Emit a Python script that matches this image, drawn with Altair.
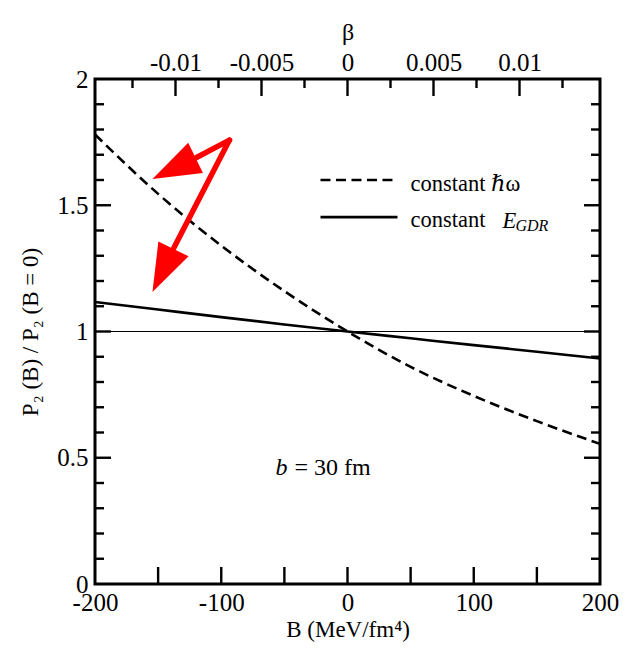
import altair as alt
import pandas as pd

# ---- data ----
B_VALUES = [-200, -150, -100, -50, 0, 50, 100, 150, 200]
CONST_HW = [1.78, 1.545, 1.34, 1.16, 1.0, 0.86, 0.745, 0.645, 0.555]
CONST_EGDR = [1.117, 1.087, 1.057, 1.028, 1.0, 0.973, 0.946, 0.92, 0.893]

X_DOMAIN = [-200, 200]
Y_DOMAIN = [0, 2]
BETA_MAX = 0.01468
X_LABELS = [-200, -100, 0, 100, 200]
X_TICKS = [-150, -100, -50, 0, 50, 100, 150]
Y_LABELS = [0, 0.5, 1, 1.5, 2]
Y_MAJOR = [0.5, 1, 1.5]
Y_MINOR = [0.1, 0.2, 0.3, 0.4, 0.6, 0.7, 0.8, 0.9, 1.1, 1.2, 1.3, 1.4, 1.6, 1.7, 1.8, 1.9]
BETA_LABELS = [-0.01, -0.005, 0, 0.005, 0.01]
BETA_MINOR = [-0.0125, -0.0075, -0.0025, 0.0025, 0.0075, 0.0125]

# annotations (data coordinates)
ARROW_TAIL_X = [-93.5, -93.5]
ARROW_TAIL_Y = [1.758, 1.758]
ARROW_BASE_X = [-119.6, -137.4]
ARROW_BASE_Y = [1.689, 1.333]
ARROW_TIP_X = [-154.5, -154.5]
ARROW_TIP_Y = [1.604, 1.156]
ARROW_ANGLE = [244, 206]

LEGEND_X = [-21.4, 39.6]
LEGEND_LINE_Y = [1.600, 1.453]
LEGEND_TEXT_Y = [1.556, 1.414]
LEGEND_TEXT_X = 49.9
LABEL_B = "b"
LABEL_B_REST = "= 30 fm"
LABEL_B_POS = (-57, 0.432)

FONT = "Liberation Serif, Times New Roman, Times, DejaVu Serif, serif"
W, H = 505, 505
DASH = [10, 5.5]

xs = alt.Scale(domain=X_DOMAIN, nice=False, zero=False)
ys = alt.Scale(domain=Y_DOMAIN, nice=False, zero=False)

common = dict(ticks=False, domain=False, grid=False, labelFont=FONT, labelFontSize=25,
              labelColor="black", labelFlush=False, labelOverlap=False,
              titleFont=FONT, titleFontWeight="normal", titleColor="black")
axis_x = alt.Axis(orient="bottom", values=X_LABELS, labelExpr="'' + datum.value",
                  labelPadding=6, title="B (MeV/fm⁴)", titleFontSize=23, titlePadding=3,
                  **common)
axis_y = alt.Axis(orient="left", values=Y_LABELS, labelExpr="'' + datum.value",
                  labelPadding=7, title="P₂ (B) / P₂ (B = 0)", titleFontSize=23,
                  titlePadding=14, **common)
axis_beta = alt.Axis(orient="top", values=BETA_LABELS, labelExpr="'' + datum.value",
                     labelPadding=4, title="β", titleFontSize=24, titlePadding=6, **common)

df_hw = pd.DataFrame({"B": B_VALUES, "ratio": CONST_HW})
df_eg = pd.DataFrame({"B": B_VALUES, "ratio": CONST_EGDR})

X = alt.X("B:Q", scale=xs, axis=axis_x)
Y = alt.Y("ratio:Q", scale=ys, axis=axis_y)

dashed = alt.Chart(df_hw).mark_line(color="black", strokeWidth=2.6, strokeDash=DASH,
                                    interpolate="monotone").encode(x=X, y=Y)
solid = alt.Chart(df_eg).mark_line(color="black", strokeWidth=2.6,
                                   interpolate="monotone").encode(x=X, y=Y)
unity = alt.Chart(pd.DataFrame({"v": [1.0]})).mark_rule(color="black", strokeWidth=1).encode(
    y=alt.Y("v:Q", scale=ys))

TW = 2.4
df_ymaj = pd.DataFrame({"v": Y_MAJOR})
df_ymin = pd.DataFrame({"v": Y_MINOR})
tick_l_maj = alt.Chart(df_ymaj).mark_rule(color="black", strokeWidth=TW).encode(
    y=alt.Y("v:Q", scale=ys), x=alt.value(0), x2=alt.value(16))
tick_l_min = alt.Chart(df_ymin).mark_rule(color="black", strokeWidth=TW).encode(
    y=alt.Y("v:Q", scale=ys), x=alt.value(0), x2=alt.value(9))
tick_r_maj = alt.Chart(df_ymaj).mark_rule(color="black", strokeWidth=TW).encode(
    y=alt.Y("v:Q", scale=ys), x=alt.value(W - 16), x2=alt.value(W))
tick_r_min = alt.Chart(df_ymin).mark_rule(color="black", strokeWidth=TW).encode(
    y=alt.Y("v:Q", scale=ys), x=alt.value(W - 9), x2=alt.value(W))
tick_b = alt.Chart(pd.DataFrame({"B": X_TICKS})).mark_rule(color="black", strokeWidth=TW).encode(
    x=alt.X("B:Q", scale=xs), y=alt.value(H - 17), y2=alt.value(H))

# legend
df_leg = pd.DataFrame({"x": [LEGEND_X[0]], "x2": [LEGEND_X[1]], "y": [LEGEND_LINE_Y[0]]})
leg_dash = alt.Chart(df_leg).mark_rule(color="black", strokeWidth=2.6, strokeDash=DASH).encode(
    x=alt.X("x:Q", scale=xs), x2="x2:Q", y=alt.Y("y:Q", scale=ys))
df_leg2 = pd.DataFrame({"x": [LEGEND_X[0]], "x2": [LEGEND_X[1]], "y": [LEGEND_LINE_Y[1]]})
leg_solid = alt.Chart(df_leg2).mark_rule(color="black", strokeWidth=2.6).encode(
    x=alt.X("x:Q", scale=xs), x2="x2:Q", y=alt.Y("y:Q", scale=ys))

def txt(data, **mk):
    base = dict(font=FONT, fontSize=22.5, align="left", baseline="alphabetic", color="black")
    base.update(mk)
    return alt.Chart(pd.DataFrame(data)).mark_text(**base).encode(
        x=alt.X("x:Q", scale=xs), y=alt.Y("y:Q", scale=ys), text="t:N")

leg_t1 = txt({"x": [LEGEND_TEXT_X], "y": [LEGEND_TEXT_Y[0]], "t": ["constant ℏω"]})
leg_t2 = txt({"x": [LEGEND_TEXT_X], "y": [LEGEND_TEXT_Y[1]], "t": ["constant"]})
leg_t3 = txt({"x": [LEGEND_TEXT_X], "y": [LEGEND_TEXT_Y[1]], "t": ["E"]}, fontStyle="italic",
             dx=92, dy=1)
leg_t4 = txt({"x": [LEGEND_TEXT_X], "y": [LEGEND_TEXT_Y[1]], "t": ["GDR"]}, fontStyle="italic",
             fontSize=16, dx=105, dy=4)

b_t1 = txt({"x": [LABEL_B_POS[0]], "y": [LABEL_B_POS[1]], "t": [LABEL_B]}, fontStyle="italic",
           fontSize=24)
b_t2 = txt({"x": [LABEL_B_POS[0]], "y": [LABEL_B_POS[1]], "t": [LABEL_B_REST]}, fontSize=24, dx=19)

# arrows
df_shaft = pd.DataFrame({"x": ARROW_TAIL_X, "y": ARROW_TAIL_Y, "x2": ARROW_BASE_X, "y2": ARROW_BASE_Y})
shafts = alt.Chart(df_shaft).mark_rule(color="#ff0000", strokeWidth=5.5, strokeCap="round").encode(
    x=alt.X("x:Q", scale=xs), y=alt.Y("y:Q", scale=ys), x2="x2:Q", y2="y2:Q")
df_head = pd.DataFrame({"x": ARROW_TIP_X, "y": ARROW_TIP_Y, "a": ARROW_ANGLE})
heads = alt.Chart(df_head).mark_point(shape="M0,0 L0.7,2 L-0.7,2 Z", filled=True, size=2304,
                                      color="#ff0000", opacity=1, strokeWidth=0).encode(
    x=alt.X("x:Q", scale=xs), y=alt.Y("y:Q", scale=ys), angle=alt.Angle("a:Q", scale=None))

layer_b = alt.layer(unity, tick_l_maj, tick_l_min, tick_r_maj, tick_r_min, tick_b,
                    dashed, solid, leg_dash, leg_solid, leg_t1, leg_t2, leg_t3, leg_t4,
                    b_t1, b_t2, shafts, heads)

beta_scale = alt.Scale(domain=[-BETA_MAX, BETA_MAX], nice=False, zero=False)
beta_maj = alt.Chart(pd.DataFrame({"beta": BETA_LABELS})).mark_rule(color="black", strokeWidth=TW).encode(
    x=alt.X("beta:Q", scale=beta_scale, axis=axis_beta), y=alt.value(0), y2=alt.value(17))
beta_min = alt.Chart(pd.DataFrame({"beta": BETA_MINOR})).mark_rule(color="black", strokeWidth=TW).encode(
    x=alt.X("beta:Q", scale=beta_scale), y=alt.value(0), y2=alt.value(9))
layer_beta = alt.layer(beta_maj, beta_min)

chart = alt.layer(layer_b, layer_beta).resolve_scale(x="independent").properties(
    width=W, height=H,
    autosize=alt.AutoSizeParams(type="none"),
    padding={"left": 95, "top": 79, "right": 25, "bottom": 66},
    background="white",
).configure_view(stroke="black", strokeWidth=3)

chart.save("out.html", embed_options={"renderer": "svg", "actions": False})
